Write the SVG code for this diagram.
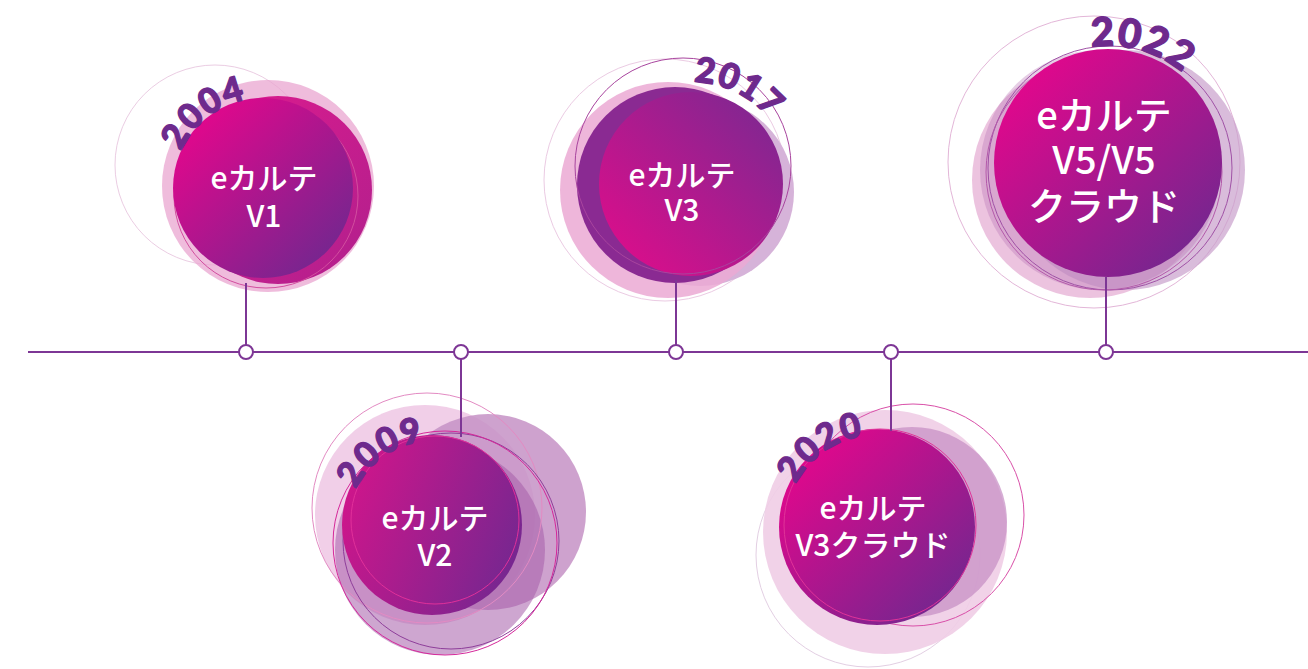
<svg xmlns="http://www.w3.org/2000/svg" width="1308" height="669" viewBox="0 0 1308 669">
<defs>
<style>
.yr{font-family:"Lato","Open Sans","Liberation Sans",sans-serif;font-weight:900;fill:#6E2A8D;stroke:#6E2A8D;stroke-width:1.3px;stroke-linejoin:round;font-size:35px;letter-spacing:1.5px}
.lbl{font-family:"Noto Sans CJK JP","Noto Sans",sans-serif;font-weight:500;fill:#fff;font-size:30px;text-anchor:middle}
.ln{stroke:#7D3695;stroke-width:2;fill:none}
.dot{fill:#fff;stroke:#7D3695;stroke-width:2}
.thin{fill:none;stroke-width:1}
</style>
<linearGradient id="gTL" x1="0" y1="0" x2="1" y2="1"><stop offset="0.1" stop-color="#E5068C"/><stop offset="0.9" stop-color="#72278F"/></linearGradient>
<linearGradient id="gH" x1="0" y1="0.3" x2="1" y2="0.7"><stop offset="0" stop-color="#D0158B"/><stop offset="1" stop-color="#742790"/></linearGradient>
<linearGradient id="gBL" x1="0" y1="1" x2="1" y2="0"><stop offset="0.1" stop-color="#DA0E8B"/><stop offset="0.9" stop-color="#812791"/></linearGradient>
<linearGradient id="gPk" x1="0" y1="0" x2="1" y2="1"><stop offset="0" stop-color="#E01A8E"/><stop offset="1" stop-color="#B0208D"/></linearGradient>
<path id="a1" d="M173.9,200.5 A90,90 0 0 1 296.7,104.6"/>
<path id="a2" d="M348.3,532.3 A84,84 0 0 1 467.5,448.9"/>
<path id="a3" d="M634.0,99.4 A102,102 0 0 1 792.8,176.9"/>
<path id="a4" d="M785.3,535.0 A92,92 0 0 1 915.9,443.6"/>
<path id="a5" d="M1026.7,78.8 A117,117 0 0 1 1221.5,134.7"/>
</defs>
<rect width="1308" height="669" fill="#fff"/>

<g id="node-2004">
<circle cx="215" cy="165" r="100" class="thin" stroke="#EBCDE3"/>
<circle cx="268" cy="186" r="106" fill="#E9A6D0" opacity="0.75"/>
<circle cx="278" cy="190" r="94" fill="url(#gPk)"/>
<circle cx="266" cy="196" r="92" class="thin" stroke="#D24E9F"/>
<circle cx="263" cy="188" r="90" fill="url(#gTL)"/>
<text class="yr"><textPath href="#a1" startOffset="50%" text-anchor="middle">2004</textPath></text>
<text class="lbl" x="264" y="189">eカルテ<tspan x="264" dy="38">V1</tspan></text>
</g>

<g id="node-2009">
<circle cx="425" cy="515" r="110" fill="#EDC3E2" opacity="0.8"/>
<circle cx="488" cy="512" r="98" fill="#C592C6" opacity="0.85"/>
<circle cx="440" cy="550" r="105" fill="#A65CAA" opacity="0.55"/>
<circle cx="427" cy="508" r="115" class="thin" stroke="#E38BC3"/>
<circle cx="451" cy="541" r="108" class="thin" stroke="#8E3E9A" stroke-width="1.5"/>
<circle cx="445" cy="543" r="112" class="thin" stroke="#D5289A"/>
<circle cx="432" cy="525" r="90" fill="url(#gH)"/>
<circle cx="435" cy="520" r="84" class="thin" stroke="#E0309A"/>
<text class="yr"><textPath href="#a2" startOffset="50%" text-anchor="middle">2009</textPath></text>
<text class="lbl" x="435" y="529">eカルテ<tspan x="435" dy="37">V2</tspan></text>
</g>

<g id="node-2017">
<circle cx="665" cy="180" r="121" class="thin" stroke="#EBCBE3"/>
<circle cx="700" cy="192" r="94" fill="#D6B3D9"/>
<circle cx="668" cy="190" r="108" fill="#EBA9D3" opacity="0.85"/>
<circle cx="675" cy="185" r="98" fill="#8A2A92"/>
<circle cx="691" cy="184" r="92" fill="url(#gBL)"/>
<circle cx="683" cy="166" r="108" class="thin" stroke="#A8449E"/>
<text class="yr"><textPath href="#a3" startOffset="50%" text-anchor="middle">2017</textPath></text>
<text class="lbl" x="682" y="186">eカルテ<tspan x="682" dy="35">V3</tspan></text>
</g>

<g id="node-2020">
<circle cx="868" cy="555" r="112" class="thin" stroke="#E3CFE3"/>
<circle cx="885" cy="532" r="122" fill="#F0CDE5" opacity="0.9"/>
<circle cx="912" cy="522" r="95" fill="#C48BC3" opacity="0.7"/>
<circle cx="913" cy="515" r="111" class="thin" stroke="#D94FA8"/>
<circle cx="877" cy="527" r="98" fill="url(#gTL)"/>
<circle cx="880" cy="525" r="96" class="thin" stroke="#E03399"/>
<text class="yr"><textPath href="#a4" startOffset="50%" text-anchor="middle">2020</textPath></text>
<text class="lbl" x="873" y="519">eカルテ<tspan x="873" dy="37">V3クラウド</tspan></text>
</g>

<g id="node-2022">
<circle cx="1094" cy="162" r="146" class="thin" stroke="#E3B6D8"/>
<circle cx="1090" cy="180" r="118" fill="#E9B8D9" opacity="0.85"/>
<circle cx="1125" cy="170" r="120" fill="#C9A0CC" opacity="0.7"/>
<circle cx="1100" cy="170" r="120" fill="#B772B4" opacity="0.35"/>
<circle cx="1110" cy="168" r="122" class="thin" stroke="#A052A6"/>
<circle cx="1104" cy="172" r="118" class="thin" stroke="#B45AAA"/>
<circle cx="1108" cy="163" r="114" fill="url(#gTL)"/>
<text class="yr" style="font-size:40px"><textPath href="#a5" startOffset="50%" text-anchor="middle">2022</textPath></text>
<text class="lbl" x="1104" y="129" style="font-size:38px">eカルテ<tspan x="1104" dy="45">V5/V5</tspan><tspan x="1104" dy="46">クラウド</tspan></text>
</g>

<g id="connectors">
<line class="ln" x1="28" y1="352" x2="1308" y2="352"/>
<line class="ln" x1="246" y1="283" x2="246" y2="345"/>
<line class="ln" x1="461" y1="359" x2="461" y2="437"/>
<line class="ln" x1="676" y1="280" x2="676" y2="345"/>
<line class="ln" x1="891" y1="359" x2="891" y2="431"/>
<line class="ln" x1="1106" y1="277" x2="1106" y2="345"/>
<circle class="dot" cx="246" cy="352" r="7"/>
<circle class="dot" cx="461" cy="352" r="7"/>
<circle class="dot" cx="676" cy="352" r="7"/>
<circle class="dot" cx="891" cy="352" r="7"/>
<circle class="dot" cx="1106" cy="352" r="7"/>
</g>
</svg>
